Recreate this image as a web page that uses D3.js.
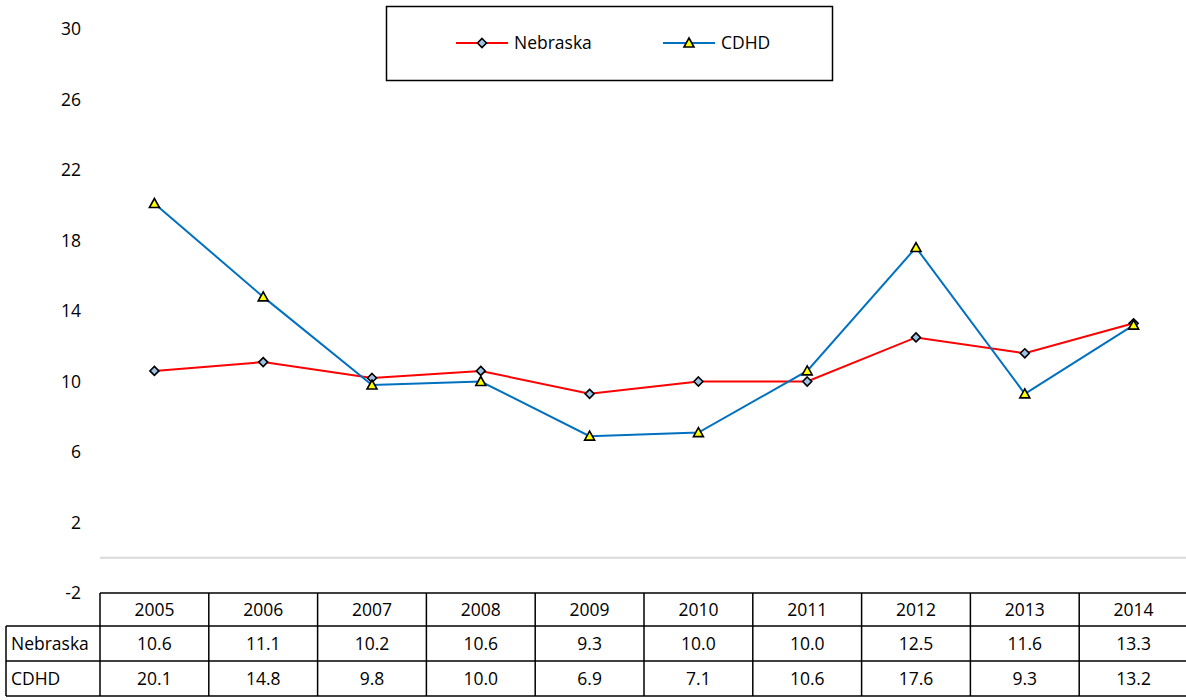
<!DOCTYPE html>
<html>
<head>
<meta charset="utf-8">
<script src="https://cdn.jsdelivr.net/npm/d3@7"></script>
<style>
  html, body { margin: 0; padding: 0; background: #fff; }
  svg { display: block; font-family: "Open Sans", sans-serif; }
</style>
</head>
<body>
<svg id="chart" width="1186" height="700"></svg>
<script>
// Rates by year, Nebraska vs. CDHD
const years = ["2005", "2006", "2007", "2008", "2009", "2010", "2011", "2012", "2013", "2014"];
const nebraska = [10.6, 11.1, 10.2, 10.6, 9.3, 10.0, 10.0, 12.5, 11.6, 13.3];
const cdhd = [20.1, 14.8, 9.8, 10.0, 6.9, 7.1, 10.6, 17.6, 9.3, 13.2];
const yTicks = [-2, 2, 6, 10, 14, 18, 22, 26, 30];

const series = [
  { name: "Nebraska", values: nebraska, color: "#ff0000", marker: "diamond", fill: "#9dc3e6" },
  { name: "CDHD", values: cdhd, color: "#0070c0", marker: "triangle", fill: "#ffff00" }
];

const svg = d3.select("#chart");
const fontSize = 17.5;
const fontFamily = "'Open Sans', sans-serif";

const x = d3.scaleBand().domain(years).range([100, 1188]).padding(0);
const y = d3.scaleLinear().domain([-2, 30]).range([593, 29]);

// y-axis labels (no axis line or ticks); plain hyphen for negatives
const yAxis = d3.axisLeft(y).tickValues(yTicks).tickSize(0).tickPadding(0).tickFormat(d => String(d));
const gy = svg.append("g").attr("transform", "translate(81,0)").call(yAxis);
gy.select(".domain").remove();
gy.selectAll("text").attr("font-size", fontSize).attr("font-family", fontFamily).attr("fill", "#000");

// zero baseline
svg.append("line")
  .attr("x1", 100).attr("x2", 1186)
  .attr("y1", y(0)).attr("y2", y(0))
  .attr("stroke", "#d9d9d9").attr("stroke-width", 2);

const cx = d => x(d) + x.bandwidth() / 2;

const line = d3.line()
  .x((d, i) => cx(years[i]))
  .y(d => y(d));

function drawMarker(g, type, fill) {
  if (type === "diamond") {
    g.append("path").attr("d", "M0,-4.5L4.5,0L0,4.5L-4.5,0Z")
      .attr("fill", fill).attr("stroke", "#000").attr("stroke-width", 1.6);
  } else {
    g.append("path").attr("d", "M0,-5L5,4L-5,4Z")
      .attr("fill", fill).attr("stroke", "#000").attr("stroke-width", 1.6)
      .attr("stroke-linejoin", "miter");
  }
}

series.forEach(s => {
  svg.append("path")
    .datum(s.values)
    .attr("d", line)
    .attr("fill", "none")
    .attr("stroke", s.color)
    .attr("stroke-width", 2);
});

series.forEach(s => {
  s.values.forEach((v, i) => {
    const g = svg.append("g").attr("transform", `translate(${cx(years[i])},${y(v)})`);
    drawMarker(g, s.marker, s.fill);
  });
});

// legend
const legend = svg.append("g");
legend.append("rect")
  .attr("x", 386.5).attr("y", 6.5).attr("width", 446).attr("height", 74)
  .attr("fill", "#fff").attr("stroke", "#000").attr("stroke-width", 1.5);
const legendPos = [456, 663];
series.forEach((s, i) => {
  const lx = legendPos[i];
  const ly = 43;
  legend.append("line")
    .attr("x1", lx).attr("x2", lx + 52).attr("y1", ly).attr("y2", ly)
    .attr("stroke", s.color).attr("stroke-width", 2);
  const g = legend.append("g").attr("transform", `translate(${lx + 26},${ly})`);
  drawMarker(g, s.marker, s.fill);
  legend.append("text")
    .attr("x", lx + 58).attr("y", ly).attr("dy", "0.35em")
    .attr("font-size", fontSize).attr("fill", "#000")
    .text(s.name);
});

// data table
const table = svg.append("g");
const rowTops = [593, 626, 661, 696];
const tStroke = "#000";
const tw = 1.5;
table.append("line").attr("x1", 100).attr("x2", 1188).attr("y1", rowTops[0]).attr("y2", rowTops[0])
  .attr("stroke", tStroke).attr("stroke-width", tw);
[1, 2, 3].forEach(r => {
  table.append("line").attr("x1", 6).attr("x2", 1188).attr("y1", rowTops[r]).attr("y2", rowTops[r])
    .attr("stroke", tStroke).attr("stroke-width", tw);
});
table.append("line").attr("x1", 6).attr("x2", 6).attr("y1", rowTops[1]).attr("y2", rowTops[3])
  .attr("stroke", tStroke).attr("stroke-width", tw);
years.forEach(yr => {
  table.append("line").attr("x1", x(yr)).attr("x2", x(yr)).attr("y1", rowTops[0]).attr("y2", rowTops[3])
    .attr("stroke", tStroke).attr("stroke-width", tw);
});
years.forEach(yr => {
  table.append("text")
    .attr("x", cx(yr)).attr("y", (rowTops[0] + rowTops[1]) / 2).attr("dy", "0.35em")
    .attr("text-anchor", "middle").attr("font-size", fontSize).text(yr);
});
series.forEach((s, r) => {
  const ym = (rowTops[r + 1] + rowTops[r + 2]) / 2;
  table.append("text")
    .attr("x", 11).attr("y", ym).attr("dy", "0.35em")
    .attr("font-size", fontSize).text(s.name);
  s.values.forEach((v, i) => {
    table.append("text")
      .attr("x", cx(years[i])).attr("y", ym).attr("dy", "0.35em")
      .attr("text-anchor", "middle").attr("font-size", fontSize).text(d3.format(".1f")(v));
  });
});
</script>
</body>
</html>
